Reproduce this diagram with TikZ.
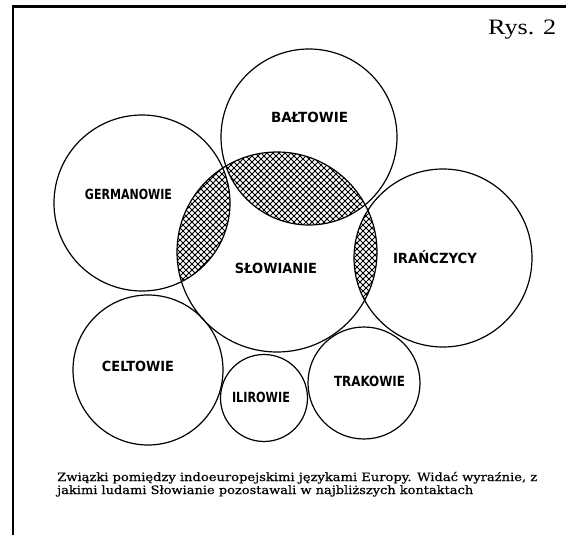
\documentclass[tikz,border=0pt]{standalone}
\usepackage{fontspec}
\setmainfont{Liberation Serif}
\newfontfamily\labfont{DejaVu Sans}
\newfontfamily\capfont[FakeBold=0.5]{DejaVu Serif}
\tikzset{
  ring/.style={circle, draw, line width=1.2pt, inner sep=0pt},
  lab/.style={font=\labfont\bfseries\fontsize{14}{15}\selectfont, inner sep=0pt},
  capline/.style={font=\capfont\fontsize{11.5}{13}\selectfont, anchor=base west, inner sep=0pt},
  hatch/.style={line width=0.9pt},
  frame/.style={line width=2.4pt}
}
\begin{document}
\begin{tikzpicture}[x=1pt,y=-1pt]
\useasboundingbox (0,0) rectangle (566,535);
% frame (top and left edges)
\coordinate (ftl) at (13,6.5);
\coordinate (ftr) at (566,6.5);
\coordinate (fbl) at (13,535);
\draw[frame] (ftr) -- (ftl) -- (fbl);
% hatched lenses
\foreach \ax/\ay/\ar/\bx/\by/\br in {142/203/88/277/252/100, 309/137/88/277/252/100, 443/258/89/277/252/100}{
  \begin{scope}
    \clip (\ax,\ay) circle[radius=\ar pt];
    \clip (\bx,\by) circle[radius=\br pt];
    \foreach \i in {-540,-534,...,570}{
      \draw[hatch] (\i,0) -- ++(540,540);
      \draw[hatch] (\i,540) -- ++(540,-540);
    }
  \end{scope}
}
% circles
\node[ring, minimum size=176pt] (germ) at (142,203) {};
\node[ring, minimum size=176pt] (balt) at (309,137) {};
\node[ring, minimum size=200pt] (slow) at (277,252) {};
\node[ring, minimum size=178pt] (iran) at (443,258) {};
\node[ring, minimum size=150pt] (celt) at (148,370) {};
\node[ring, minimum size=87pt] (ilir) at (264,398) {};
\node[ring, minimum size=112pt] (trak) at (364,383) {};
% labels
\node[lab] (tgerm) at (128.5,194) {\resizebox{87pt}{\height}{GERMANOWIE}};
\node[lab] (tbalt) at (309.5,117) {\resizebox{77pt}{\height}{BAŁTOWIE}};
\node[lab] (tslow) at (276,268) {\resizebox{82pt}{\height}{SŁOWIANIE}};
\node[lab] (tiran) at (435,257) {\resizebox{84pt}{\height}{IRAŃCZYCY}};
\node[lab] (tcelt) at (138,366) {\resizebox{72pt}{\height}{CELTOWIE}};
\node[lab] (tilir) at (261,397) {\resizebox{58pt}{\height}{ILIROWIE}};
\node[lab] (ttrak) at (369.5,381) {\resizebox{71pt}{\height}{TRAKOWIE}};
% title
\node[anchor=base west, inner sep=0pt, font=\fontsize{22}{23}\selectfont] (rys) at (488,35) {\resizebox{68pt}{\height}{Rys. 2}};
% caption
\node[capline] (cap1) at (57,481) {\resizebox{480pt}{\height}{Związki pomiędzy indoeuropejskimi językami Europy. Widać wyraźnie, z}};
\node[capline] (cap2) at (57,494) {\resizebox{416pt}{\height}{jakimi ludami Słowianie pozostawali w najbliższych kontaktach}};
\end{tikzpicture}
\end{document}
